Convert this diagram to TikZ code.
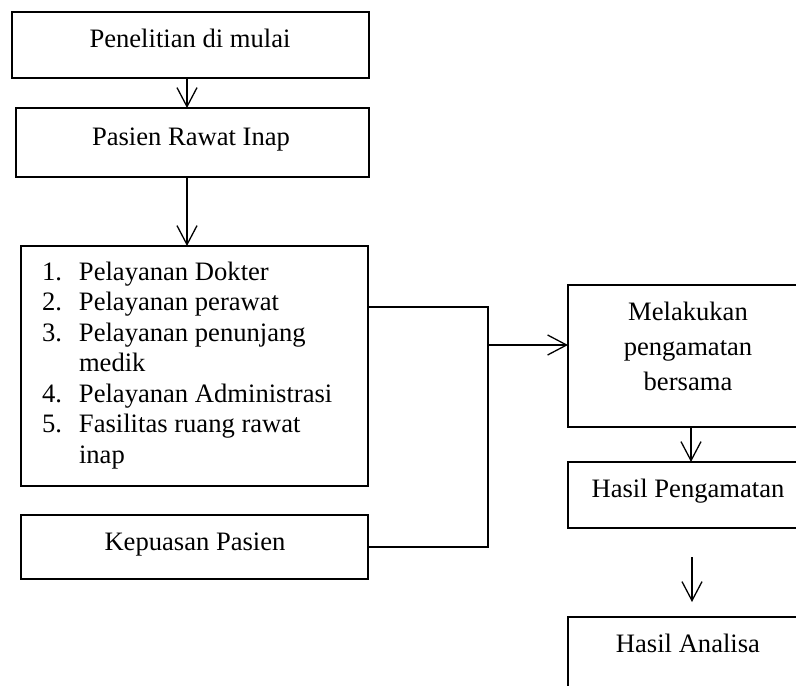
\documentclass[tikz,border=0pt]{standalone}
\usepackage{fontspec}
\setmainfont{Liberation Serif}
\usetikzlibrary{arrows.meta}
\tikzset{
  box/.style={draw, line width=1.3pt, inner sep=0pt, outer sep=0pt},
  lbl/.style={anchor=base, inner sep=0pt, outer sep=0pt, font=\fontsize{26.6}{30.5}\selectfont},
  conn/.style={line width=1.3pt},
  arr/.style={conn, -{Straight Barb[length=19pt,width=20pt]}}
}
\begin{document}
\begin{tikzpicture}[x=1pt,y=-1pt]
\useasboundingbox (0,0) rectangle (796,686);
\clip (0,0) rectangle (796,686);
% boxes
\node[box, minimum width=357pt, minimum height=66pt] (b1) at (190.5,45) {};
\node[box, minimum width=353pt, minimum height=69pt] (b2) at (192.5,142.5) {};
\node[box, minimum width=347pt, minimum height=240pt] (b3) at (194.5,366) {};
\node[box, minimum width=347pt, minimum height=64pt] (b4) at (194.5,547) {};
\node[box, minimum width=240pt, minimum height=142pt] (b5) at (688,356) {};
\node[box, minimum width=240pt, minimum height=66pt] (b6) at (688,495) {};
\node[box, minimum width=240pt, minimum height=83pt] (b7) at (688,658.5) {};
% texts
\node[lbl] (t1) at (190,47) {Penelitian di mulai};
\node[lbl] (t2) at (191,145) {Pasien Rawat Inap};
\node[lbl, anchor=base west] (t3) at (42,280) {\begin{tabular}[t]{@{}l@{}}
\makebox[37pt][l]{1.}Pelayanan Dokter\\
\makebox[37pt][l]{2.}Pelayanan perawat\\
\makebox[37pt][l]{3.}Pelayanan penunjang\\
\hspace*{37pt}medik\\
\makebox[37pt][l]{4.}Pelayanan Administrasi\\
\makebox[37pt][l]{5.}Fasilitas ruang rawat\\
\hspace*{37pt}inap
\end{tabular}};
\node[lbl] (t4) at (195,550) {Kepuasan Pasien};
\node[lbl, font=\fontsize{26.6}{35}\selectfont] (t5) at (688,320) {\begin{tabular}[t]{@{}c@{}}
Melakukan\\ pengamatan\\ bersama
\end{tabular}};
\node[lbl] (t6) at (688,497) {Hasil Pengamatan};
\node[lbl] (t7) at (688,652) {Hasil Analisa};
% connectors
\coordinate (j1) at (488,307);
\coordinate (j2) at (488,547);
\coordinate (j3) at (488,345);
\coordinate (p1) at (692,557);
\coordinate (p2) at (692,602);
\draw[arr] ([xshift=-3.5pt]b1.south) -- ([xshift=-3.5pt]b1.south |- b2.north);
\draw[arr] ([xshift=-5.5pt]b2.south) -- ([xshift=-5.5pt]b2.south |- b3.north);
\draw[conn] (b3.east |- j1) -- (j1) -- (j2) -- (b4.east);
\draw[arr] (j3) -- (j3 -| b5.west);
\draw[arr] ([xshift=3pt]b5.south) -- ([xshift=3pt]b5.south |- b6.north);
\draw[arr] (p1) -- (p2);
\end{tikzpicture}
\end{document}
